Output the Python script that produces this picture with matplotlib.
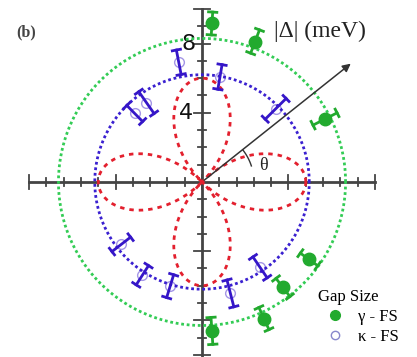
#Importing the Required Libraries and Modules
import numpy as np
import matplotlib.pyplot as plt
from matplotlib.lines import Line2D

#Gap data (angle in degrees, gap in meV, error in meV)
gamma_angle = [86.4, 69.3, 27.1, -35.9, -52.5, -65.6, -86.2]
gamma_gap = [9.18, 8.68, 7.99, 7.64, 7.69, 8.67, 8.63]
gamma_err = [0.66, 0.72, 0.78, 0.62, 0.66, 0.70, 0.78]

kappa_angle = [101.0, 80.3, 44.8, 125.0, 134.5, 217.7, 237.4, 253.0, -75.7, -55.8]
kappa_gap = [7.05, 6.16, 6.0, 5.6, 5.55, 5.9, 6.4, 6.3, 6.65, 5.97]
kappa_err = [0.72, 0.72, 0.85, 0.77, 0.65, 0.68, 0.66, 0.69, 0.80, 0.73]

#Model curves
gamma_fit = 8.3      # isotropic gap on gamma sheet
kappa_fit = 6.2      # isotropic gap on kappa sheet
dwave_amp = 6.0      # |cos 2theta| amplitude

arrow_angle = 38.5
arrow_len = 11.15

fig = plt.figure(figsize=(4.17, 3.57), dpi=100)
ax = fig.add_axes([0, 0, 1, 1])
ax.set_xlim(-11.68, 12.43)
ax.set_ylim(-10.12, 10.52)
ax.set_aspect("equal")
ax.axis("off")

#Axes through the origin with crossing ticks
axis_col = "#444444"
ax.plot([-10, 10], [0, 0], color=axis_col, lw=2.0, zorder=2)
ax.plot([0, 0], [-10.2, 10], color=axis_col, lw=2.0, zorder=2)
for t in range(-10, 11):
    h = 0.42 if t % 5 == 0 else 0.22
    ax.plot([t, t], [-h, h], color=axis_col, lw=1.3, zorder=2)
for t in range(-10, 11):
    if t == 0:
        continue
    w = 0.45 if t % 4 == 0 or abs(t) == 10 else 0.22
    ax.plot([-w, w], [t, t], color=axis_col, lw=1.3, zorder=2)
ax.text(-0.35, 8.0, "8", fontsize=16, ha="right", va="center", color="#111111", zorder=3)
ax.text(-0.5, 4.0, "4", fontsize=16, ha="right", va="center", color="#111111", zorder=3)

#Fitted gap curves
th = np.linspace(0, 2 * np.pi, 721)
ax.plot(gamma_fit * np.cos(th), gamma_fit * np.sin(th), color="#33cc55",
        lw=2.0, ls=(0, (1, 1)), zorder=3)
ax.plot(kappa_fit * np.cos(th), kappa_fit * np.sin(th), color="#3a20d0",
        lw=2.0, ls=(0, (1, 1)), zorder=3)
rd = dwave_amp * np.abs(np.cos(2 * th))
ax.plot(rd * np.cos(th), rd * np.sin(th), color="#e3202e",
        lw=2.0, ls=(0, (1.6, 1.8)), zorder=4)

#Arrow for |Delta| and angle marker
a = np.radians(arrow_angle)
ax.annotate("", xy=(arrow_len * np.cos(a), arrow_len * np.sin(a)), xytext=(0, 0),
            arrowprops=dict(arrowstyle="-|>", color="#333333", lw=1.1,
                            mutation_scale=12), zorder=5)
arc = np.radians(np.linspace(18, 38, 20))
ax.plot(3.0 * np.cos(arc), 3.0 * np.sin(arc), color="#333333", lw=1.0, zorder=4)
ax.text(3.3, 0.7, "θ", fontsize=13, family="Liberation Serif", color="#222222")
ax.text(4.15, 8.73, "|Δ| (meV)", fontsize=17, family="Liberation Serif",
        va="center", color="#222222")
ax.text(-10.75, 8.4, "(b)", fontsize=11.5, family="Liberation Serif",
        fontweight="bold", color="#444444")


def radial_errorbars(angles, gaps, errs, color, marker_face, zo):
    for ang, r, e in zip(angles, gaps, errs):
        t = np.radians(ang)
        ux, uy = np.cos(t), np.sin(t)
        px, py = -uy, ux
        ax.plot([(r - e) * ux, (r + e) * ux], [(r - e) * uy, (r + e) * uy],
                color=color, lw=2.0, zorder=zo)
        for rr in (r - e, r + e):
            cx, cy = rr * ux, rr * uy
            ax.plot([cx - 0.24 * px, cx + 0.24 * px], [cy - 0.24 * py, cy + 0.24 * py],
                    color=color, lw=2.0, zorder=zo)
        ax.plot(r * ux, r * uy, "o", ms=9 if marker_face != "none" else 7,
                mfc=marker_face, mec=color if marker_face == "none" else marker_face,
                mew=1.0, alpha=1.0 if marker_face != "none" else 0.45, zorder=zo + 1)


radial_errorbars(gamma_angle, gamma_gap, gamma_err, "#22aa2e", "#22aa2e", 6)
radial_errorbars(kappa_angle, kappa_gap, kappa_err, "#3516c8", "none", 6)

#Legend
handles = [Line2D([], [], ls="none", marker="o", ms=7, mfc="#22aa2e", mec="#22aa2e",
                  label="γ - FS"),
           Line2D([], [], ls="none", marker="o", ms=6, mfc="none", mec="#8888cc",
                  label="κ - FS")]
leg = ax.legend(handles=handles, title="Gap Size", loc="lower right",
                bbox_to_anchor=(0.985, 0.0), frameon=False, handletextpad=0.4,
                borderaxespad=0.3, labelspacing=0.25,
                prop={"family": "Liberation Serif", "size": 12})
leg.get_title().set_fontfamily("Liberation Serif")
leg.get_title().set_fontsize(12)
leg._legend_box.align = "left"

plt.savefig("out.png", dpi=100)
